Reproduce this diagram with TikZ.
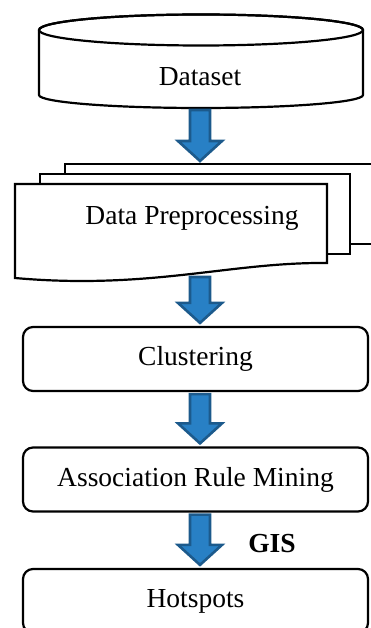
\documentclass[tikz,border=0pt]{standalone}
\usepackage{fontspec}
\setmainfont{Liberation Serif}
\usetikzlibrary{calc}
\definecolor{arrdark}{RGB}{28,90,140}
\definecolor{arrlight}{RGB}{40,128,197}
\tikzset{
  outl/.style={draw=black, line width=2.2pt, fill=white},
  rbox/.style={outl, rounded corners=10pt, minimum width=345pt, minimum height=64pt, inner sep=0pt},
  lbl/.style={font=\fontsize{27.5}{30}\selectfont, inner sep=0pt},
  bigarr/.style={draw=arrdark, fill=arrlight, line width=2.6pt, line join=miter},
}
% #1 from node/anchor, #2 to node/anchor : tall block arrow at x = 200
\newcommand\blockarr[2]{%
  \path[bigarr] let \p1=(#1), \p2=(#2) in
    (190pt,\y1-2pt) -- (210pt,\y1-2pt) -- (210pt,\y2+23pt) -- (222pt,\y2+23pt)
    -- (200pt,\y2+3pt) -- (178pt,\y2+23pt) -- (190pt,\y2+23pt) -- cycle;}
\begin{document}
\begin{tikzpicture}[x=1pt,y=-1pt]
\useasboundingbox (0,0) rectangle (371,628);
\clip (0,0) rectangle (371,628);
% Dataset cylinder
\path[outl] (39,30) -- (39,95) arc[start angle=180, end angle=0, x radius=162, y radius=13]
  -- (363,30) arc[start angle=0, end angle=-180, x radius=162, y radius=15.5] -- cycle;
\draw[line width=2.2pt] (201,30) ellipse[x radius=162, y radius=15.5];
\node[lbl] (ds) at (200,77) {Dataset};
\coordinate (dsb) at (200,108);
% multi-document
\path[outl] (65,164) rectangle (385,244);
\path[outl] (40,174) rectangle (350,254);
\path[outl] (15,184) -- (327,184) -- (327,263)
  .. controls (230,262) and (150,290) .. (15,278) -- cycle;
\node[lbl] (dp) at (192,218) {Data Preprocessing};
\coordinate (dpt) at (200,164);
\coordinate (dpb) at (200,275);
% boxes
\node[rbox, lbl] (cl) at (195.5,359) {Clustering};
\node[rbox, lbl] (arm) at (195.5,479.5) {Association Rule Mining};
\node[rbox, lbl] (hs) at (195.5,601) {Hotspots};
% arrows
\blockarr{dsb}{dpt}
\blockarr{dpb}{cl.north}
\blockarr{cl.south}{arm.north}
\blockarr{arm.south}{hs.north}
\node[lbl, font=\fontsize{27.5}{30}\selectfont\bfseries] (gis) at (272,544) {GIS};
\end{tikzpicture}
\end{document}
